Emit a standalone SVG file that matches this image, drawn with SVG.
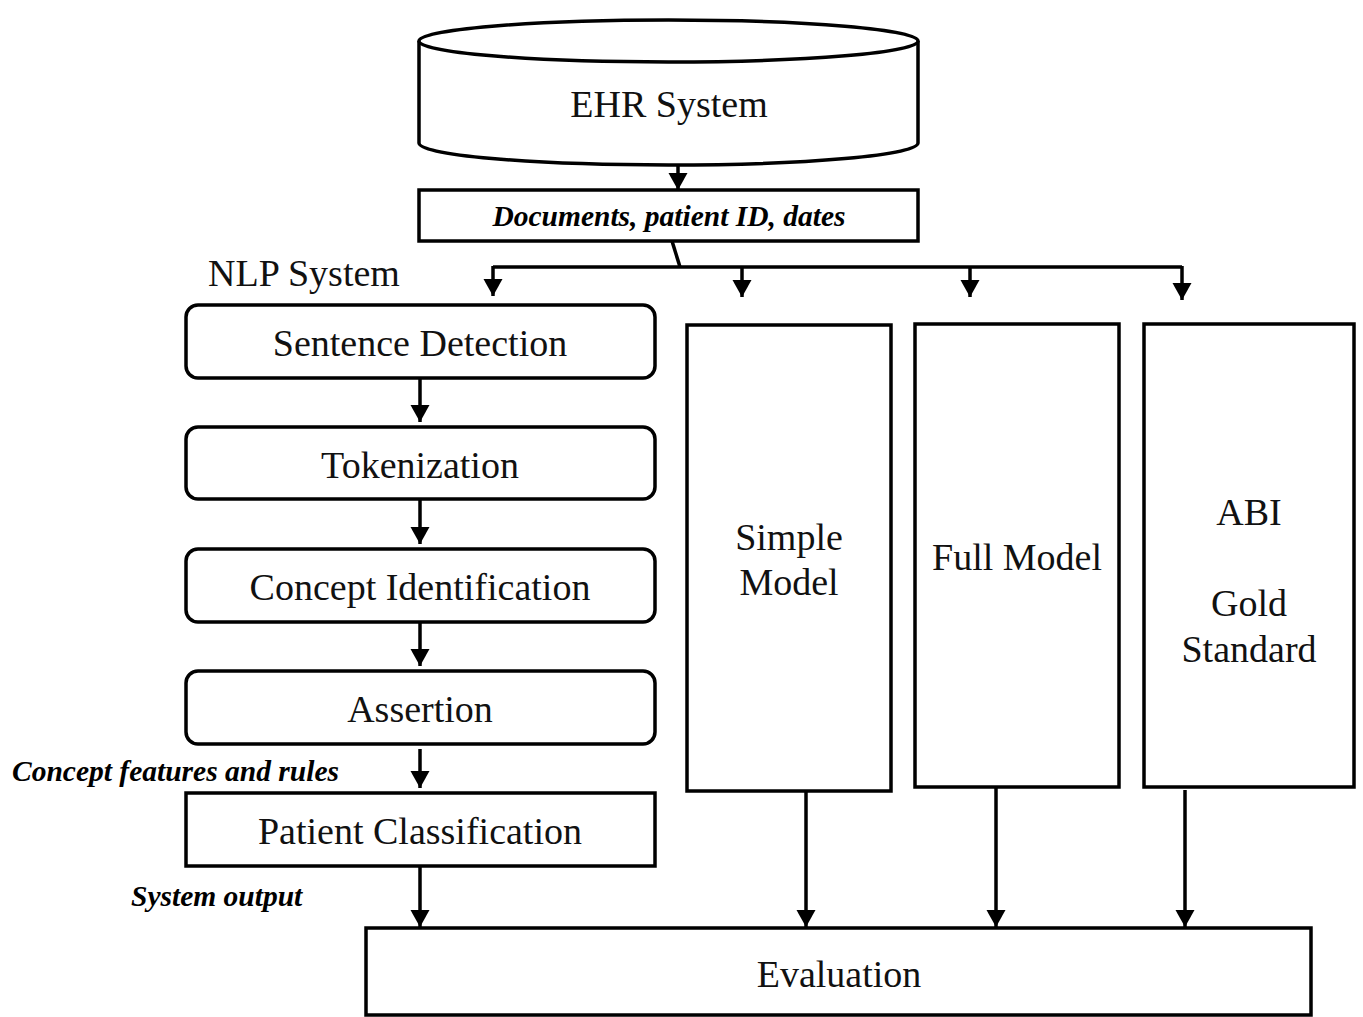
<svg xmlns="http://www.w3.org/2000/svg" width="1363" height="1017" viewBox="0 0 1363 1017">
<style>
.s{fill:#fff;stroke:#000;stroke-width:3.5}
.t{font-family:"Liberation Serif",serif;font-size:38px;fill:#111;text-anchor:middle}
.b{font-family:"Liberation Serif",serif;font-size:29.5px;font-weight:bold;font-style:italic;fill:#000}
.c{stroke:#000;stroke-width:3.5;fill:none;marker-end:url(#a)}
</style>
<defs>
<marker id="a" markerWidth="6" markerHeight="6" refX="5" refY="3" orient="auto" markerUnits="strokeWidth"><path d="M0,0.2 L5,3 L0,5.8 Z" fill="#000"/></marker>
</defs>
<rect width="1363" height="1017" fill="#fff"/>
<g id="ehr">
<path class="s" d="M419,41 A249.5,21 0 0 1 918,41 L918,143 A249.5,22 0 0 1 419,143 Z"/>
<path class="s" d="M419,41 A249.5,21 0 0 0 918,41"/>
<text class="t" x="669" y="117">EHR System</text>
</g>
<g id="docs">
<rect class="s" x="419" y="190" width="499" height="51"/>
<text class="b" x="669" y="226" text-anchor="middle">Documents, patient ID, dates</text>
</g>
<text id="nlp-label" class="t" x="304" y="286">NLP System</text>
<g id="sentence"><rect class="s" x="186" y="305" width="469" height="73" rx="12"/><text class="t" x="420" y="356">Sentence Detection</text></g>
<g id="token"><rect class="s" x="186" y="427" width="469" height="72" rx="12"/><text class="t" x="420" y="478">Tokenization</text></g>
<g id="concept"><rect class="s" x="186" y="549" width="469" height="73" rx="12"/><text class="t" x="420" y="600">Concept Identification</text></g>
<g id="assertion"><rect class="s" x="186" y="671" width="469" height="73" rx="12"/><text class="t" x="420" y="722">Assertion</text></g>
<g id="classif"><rect class="s" x="186" y="793" width="469" height="73"/><text class="t" x="420" y="844">Patient Classification</text></g>
<text id="lbl-features" class="b" x="12" y="781">Concept features and rules</text>
<text id="lbl-output" class="b" x="131" y="906">System output</text>
<g id="simple"><rect class="s" x="687" y="325" width="204" height="466"/><text class="t" x="789" y="550">Simple</text><text class="t" x="789" y="595">Model</text></g>
<g id="full"><rect class="s" x="915" y="324" width="204" height="463"/><text class="t" x="1017" y="570">Full Model</text></g>
<g id="abi"><rect class="s" x="1144" y="324" width="210" height="463"/><text class="t" x="1249" y="525">ABI</text><text class="t" x="1249" y="616">Gold</text><text class="t" x="1249" y="662">Standard</text></g>
<g id="eval"><rect class="s" x="366" y="928" width="945" height="87"/><text class="t" x="839" y="987">Evaluation</text></g>
<g id="connectors">
<line class="c" x1="678" y1="165" x2="678" y2="190"/>
<polyline points="672,241 680,267" fill="none" stroke="#000" stroke-width="3.5"/>
<line x1="493" y1="267" x2="1182" y2="267" stroke="#000" stroke-width="3.5"/>
<line class="c" x1="493" y1="266" x2="493" y2="296"/>
<line class="c" x1="742" y1="266" x2="742" y2="297"/>
<line class="c" x1="970" y1="266" x2="970" y2="297"/>
<line class="c" x1="1182" y1="266" x2="1182" y2="300"/>
<line class="c" x1="420" y1="378" x2="420" y2="422"/>
<line class="c" x1="420" y1="499" x2="420" y2="544"/>
<line class="c" x1="420" y1="622" x2="420" y2="666"/>
<line class="c" x1="420" y1="749" x2="420" y2="788"/>
<line class="c" x1="420" y1="866" x2="420" y2="927"/>
<line class="c" x1="806" y1="791" x2="806" y2="927"/>
<line class="c" x1="996" y1="787" x2="996" y2="927"/>
<line class="c" x1="1185" y1="790" x2="1185" y2="927"/>
</g>
</svg>
